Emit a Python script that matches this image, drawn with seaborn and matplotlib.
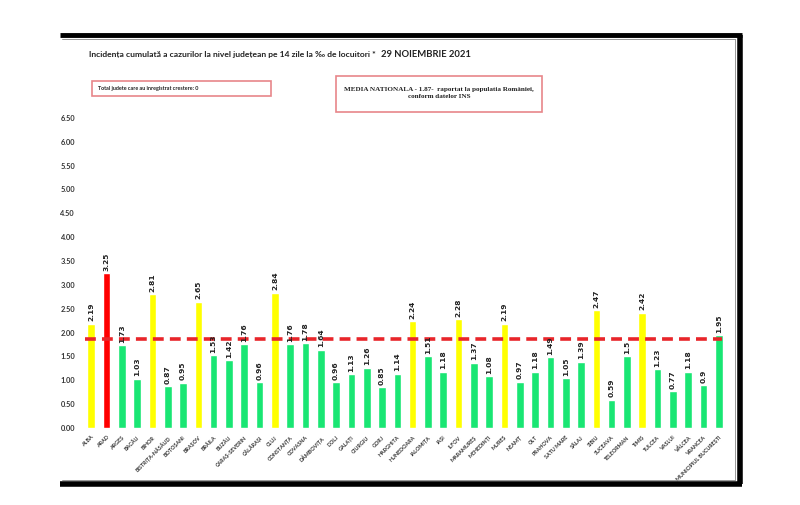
import matplotlib
matplotlib.use("Agg")
import matplotlib.pyplot as plt
from matplotlib.lines import Line2D
from matplotlib.patches import Rectangle
import seaborn as sns
import pandas as pd

# data
judete = ['ALBA', 'ARAD', 'ARGEȘ', 'BACĂU', 'BIHOR', 'BISTRIȚA-NĂSĂUD', 'BOTOȘANI',
          'BRAȘOV', 'BRĂILA', 'BUZĂU', 'CARAȘ-SEVERIN', 'CĂLĂRAȘI', 'CLUJ', 'CONSTANȚA',
          'COVASNA', 'DÂMBOVIȚA', 'DOLJ', 'GALAȚI', 'GIURGIU', 'GORJ', 'HARGHITA',
          'HUNEDOARA', 'IALOMIȚA', 'IAȘI', 'ILFOV', 'MARAMUREȘ', 'MEHEDINȚI', 'MUREȘ',
          'NEAMȚ', 'OLT', 'PRAHOVA', 'SATU MARE', 'SĂLAJ', 'SIBIU', 'SUCEAVA',
          'TELEORMAN', 'TIMIȘ', 'TULCEA', 'VASLUI', 'VÂLCEA', 'VRANCEA',
          'MUNICIPIUL BUCUREȘTI']
incidenta = [2.19, 3.25, 1.73, 1.03, 2.81, 0.87, 0.95, 2.65, 1.53, 1.42, 1.76, 0.96,
             2.84, 1.76, 1.78, 1.64, 0.96, 1.13, 1.26, 0.85, 1.14, 2.24, 1.51, 1.18,
             2.28, 1.37, 1.08, 2.19, 0.97, 1.18, 1.49, 1.05, 1.39, 2.47, 0.59, 1.5,
             2.42, 1.23, 0.77, 1.18, 0.9, 1.95]
media_nationala = 1.87
y_ticks = [0, 0.5, 1, 1.5, 2, 2.5, 3, 3.5, 4, 4.5, 5, 5.5, 6, 6.5]


def culoare(v):
    if v > 3:
        return '#FF0000'
    if v >= 2:
        return '#FFFF00'
    return '#19E673'


df = pd.DataFrame({'judet': judete, 'val': incidenta})
palette = {j: culoare(v) for j, v in zip(judete, incidenta)}

sns.set_style('white')
plt.rcParams['font.family'] = ['Lato', 'DejaVu Sans']

fig = plt.figure(figsize=(8, 5.05), dpi=100)
ax = fig.add_axes([0.1025, 0.1525, 0.8075, 0.614])

sns.barplot(data=df, x='judet', y='val', hue='judet', palette=palette,
            legend=False, width=0.5, saturation=1, ax=ax)

# value labels
for i, v in enumerate(incidenta):
    lbl = ('%.2f' % v).rstrip('0') if round(v * 10) == v * 10 else '%.2f' % v
    ax.text(i, v + 0.05, lbl, rotation=90, ha='center', va='bottom',
            fontsize=5.4, fontweight='bold', color='#222222',
            family=['DejaVu Sans'])

# national average
ax.axhline(media_nationala, color='#E8252A', lw=2.6, ls=(0, (3, 1.7)),
           xmin=0.005, xmax=0.99)

ax.set_xlim(-0.6, len(judete) - 0.4)
ax.set_ylim(0, 6.5)
ax.set_yticks(y_ticks)
ax.set_yticklabels(['%.2f' % t for t in y_ticks], fontsize=5.3,
                   fontweight='bold', color='#333333')
ax.set_xticks(range(len(judete)))
ax.set_xticklabels(judete, rotation=45, ha='right', rotation_mode='anchor',
                   fontsize=3.9, fontweight='bold', color='#333333')
ax.tick_params(axis='both', length=0)
ax.tick_params(axis='y', pad=5)
ax.tick_params(axis='x', pad=5)
ax.set_xlabel('')
ax.set_ylabel('')
sns.despine(ax=ax, left=True, bottom=True)

# titles
fig.text(0.29, 0.893, 'Incidența cumulată a cazurilor la nivel județean pe 14 zile la ‰ de locuitori *',
         ha='center', va='center', fontsize=6.1, fontweight='bold', color='#222222')
fig.text(0.533, 0.893, '29 NOIEMBRIE 2021', ha='center', va='center',
         fontsize=6.8, fontweight='bold', color='#222222')

# info boxes
fig.add_artist(Rectangle((0.115, 0.810), 0.224, 0.030, transform=fig.transFigure,
                         fill=False, edgecolor='#E8868A', lw=1.2))
fig.text(0.122, 0.825, 'Total judete care au inregistrat crestere: 0', ha='left',
         va='center', fontsize=3.9, fontweight='bold', color='#222222')

fig.add_artist(Rectangle((0.42, 0.778), 0.258, 0.072, transform=fig.transFigure,
                         fill=False, edgecolor='#E8868A', lw=1.2))
fig.text(0.549, 0.816, 'MEDIA NATIONALA - 1.87-  raportat la populatia României,\nconform datelor INS',
         ha='center', va='center', fontsize=5.1, fontweight='bold',
         family=['Liberation Serif'], color='#222222', linespacing=1.4)

# frame (shadow style, no left edge)
top = (505 - 35) / 505
bot = (505 - 484) / 505
fig.add_artist(Line2D([0.075, 0.927], [top, top], color='black', lw=3.5,
                      transform=fig.transFigure, solid_capstyle='butt'))
fig.add_artist(Line2D([0.925, 0.925], [top, bot], color='black', lw=4,
                      transform=fig.transFigure, solid_capstyle='butt'))
fig.add_artist(Line2D([0.075, 0.927], [bot, bot], color='black', lw=4,
                      transform=fig.transFigure, solid_capstyle='butt'))
fig.add_artist(Line2D([0.077, 0.919], [top - 0.008, top - 0.008], color='#888888',
                      lw=0.6, transform=fig.transFigure))
fig.add_artist(Line2D([0.919, 0.919], [top - 0.008, bot + 0.008], color='#888888',
                      lw=0.6, transform=fig.transFigure))
fig.add_artist(Line2D([0.077, 0.919], [bot + 0.008, bot + 0.008], color='#888888',
                      lw=0.6, transform=fig.transFigure))

fig.savefig('out.png', dpi=100, facecolor='white')
